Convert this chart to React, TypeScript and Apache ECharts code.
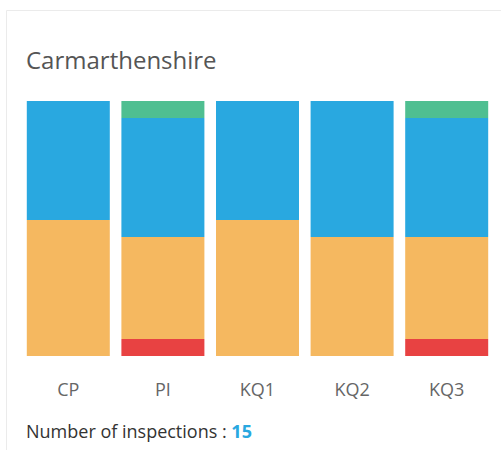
import React, { useEffect, useRef } from "react";
import * as echarts from "echarts";

const categories = ["CP", "PI", "KQ1", "KQ2", "KQ3"];
const redValues = [0, 1, 0, 0, 1];
const orangeValues = [8, 6, 8, 7, 6];
const blueValues = [7, 7, 7, 8, 7];
const greenValues = [0, 1, 0, 0, 1];
const regionName = "Carmarthenshire";
const inspections = 15;

export default function App() {
  const ref = useRef<HTMLDivElement>(null);
  useEffect(() => {
    const chart = echarts.init(ref.current!, null, { renderer: "svg" });
    const font = "'Open Sans', sans-serif";
    const mk = (name: string, data: number[], color: string) => ({
      name,
      type: "bar",
      stack: "all",
      data,
      barWidth: 83,
      itemStyle: { color },
      emphasis: { disabled: true },
    });
    chart.setOption({
      animation: false,
      grid: { left: 21, right: 7, top: 101, bottom: 94 },
      xAxis: {
        type: "category",
        data: categories,
        axisLine: { show: false },
        axisTick: { show: false },
        axisLabel: { color: "#666", fontSize: 18, fontFamily: font, margin: 24 },
      },
      yAxis: { type: "value", min: 0, max: inspections, show: false },
      series: [
        mk("red", redValues, "#e84242"),
        mk("orange", orangeValues, "#f5b860"),
        mk("blue", blueValues, "#29a8e0"),
        mk("green", greenValues, "#4fbf91"),
      ],
      graphic: [
        {
          type: "rect",
          shape: { x: 6.5, y: 10.5, width: 600, height: 500 },
          style: { fill: "none", stroke: "#ebebeb", lineWidth: 1 },
          silent: true,
        },
        {
          type: "text",
          x: 26,
          y: 71,
          style: {
            text: regionName,
            fontSize: 24,
            fontFamily: font,
            fill: "#555",
            textVerticalAlign: "bottom",
          },
        },
        {
          type: "text",
          x: 26,
          y: 440,
          style: {
            text: "{a|Number of inspections : }{b|" + inspections + "}",
            textVerticalAlign: "bottom",
            rich: {
              a: { fontSize: 18, fontFamily: font, fill: "#333", color: "#333" },
              b: { fontSize: 18, fontFamily: font, fontWeight: "bold", color: "#29a8e0", fill: "#29a8e0" },
            },
          },
        },
      ],
    });
    return () => chart.dispose();
  }, []);
  return <div ref={ref} style={{ width: 501, height: 450, position: "absolute", left: 0, top: 0 }} />;
}
